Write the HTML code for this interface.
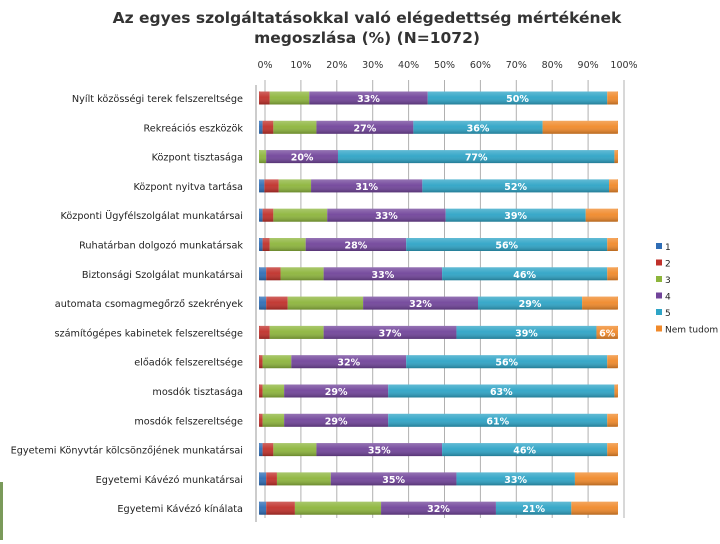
<!DOCTYPE html>
<html><head><meta charset="utf-8"><style>
body{margin:0;background:#fff;width:720px;height:540px;overflow:hidden;font-family:"DejaVu Sans","Liberation Sans",sans-serif}
</style></head><body>
<svg id="chart" width="720" height="540" xmlns="http://www.w3.org/2000/svg" font-family="DejaVu Sans, Liberation Sans, sans-serif">
<defs>
<linearGradient id="shine" x1="0" y1="0" x2="0" y2="1">
<stop offset="0" stop-color="#fff" stop-opacity="0.25"/><stop offset="0.45" stop-color="#fff" stop-opacity="0.05"/><stop offset="1" stop-color="#000" stop-opacity="0.25"/>
</linearGradient>
</defs>
<text x="367" y="23" text-anchor="middle" font-size="15.5" font-weight="bold" fill="#333">Az egyes szolgáltatásokkal való elégedettség mértékének</text>
<text x="367" y="43" text-anchor="middle" font-size="15.5" font-weight="bold" fill="#333">megoszlása (%) (N=1072)</text>
<rect x="0" y="482" width="3" height="58" fill="#7a9a5a"/>
<g id="grid"></g><g id="bars"></g><g id="legend"></g>
</svg>
<script>
const categories=["Nyílt közösségi terek felszereltsége","Rekreációs eszközök","Központ tisztasága","Központ nyitva tartása","Központi Ügyfélszolgálat munkatársai","Ruhatárban dolgozó munkatársak","Biztonsági Szolgálat munkatársai","automata csomagmegőrző szekrények","számítógépes kabinetek felszereltsége","előadók felszereltsége","mosdók tisztasága","mosdók felszereltsége","Egyetemi Könyvtár kölcsönzőjének munkatársai","Egyetemi Kávézó munkatársai","Egyetemi Kávézó kínálata"];
const s1=[0,1,0,1.5,1,1,2,2,0,0,0,0,1,2,2];
const s2=[3,3,0,4,3,2,4,6,3,1,1,1,3,3,8];
const s3=[11,12,2,9,15,10,12,21,15,8,6,6,12,15,24];
const s4=[33,27,20,31,33,28,33,32,37,32,29,29,35,35,32];
const s5=[50,36,77,52,39,56,46,29,39,56,63,61,46,33,21];
const sNT=[3,21,1,2.5,9,3,3,10,6,3,1,3,3,12,13];
const seriesNames=["1","2","3","4","5","Nem tudom"];
const ticks=[0,10,20,30,40,50,60,70,80,90,100];
const ntLabelRows=[8];
const colors=["#2f6db5","#c0302a","#8db53c","#71449a","#2ea4c6","#f0892a"];
const series=[s1,s2,s3,s4,s5,sNT];
const NS="http://www.w3.org/2000/svg";
const x0=259,x1=618,gx=6,top0=98,step=29.3,bh=13;
const X=v=>x0+(x1-x0)*v/100;
const Y=i=>top0+i*step;
function mk(t,a,p){const e=document.createElementNS(NS,t);for(const k in a)e.setAttribute(k,a[k]);p.appendChild(e);return e;}
const grid=document.getElementById('grid'),bars=document.getElementById('bars'),leg=document.getElementById('legend');
ticks.forEach(t=>{
 const l=mk('line',{x1:X(t)+gx,y1:80,x2:X(t)+gx,y2:518,stroke:'#b0b0b0','stroke-width':1},grid);
 
 
 const tx=mk('text',{x:X(t)+gx,y:68,'text-anchor':'middle','font-size':9.5,fill:'#333'},grid);
 tx.textContent=t+'%';
 
 
});
const ax=mk('line',{x1:256,y1:85,x2:256,y2:522,stroke:'#999'},grid);


categories.forEach((c,i)=>{
 const y=Y(i);
 const tl=mk('text',{x:243,y:y+4,'text-anchor':'end','font-size':9.7,fill:'#222'},bars);
 tl.textContent=c;
 
 
 let acc=0;
 series.forEach((s,k)=>{
  const v=s[i];if(v<=0){return;}
  const r=mk('rect',{x:X(acc),y:y-bh/2,width:X(acc+v)-X(acc),height:bh,fill:colors[k]},bars);
  
  
  const show=(k===3||k===4)||(k===5&&ntLabelRows.includes(i));
  if(show){
   const t=mk('text',{x:(X(acc)+X(acc+v))/2,y:y+4,'text-anchor':'middle','font-size':9.5,'font-weight':'bold',fill:'#fff'},bars);
   t.textContent=Math.round(v)+'%';
   
   
  }
  acc+=v;
 });
 const sh=mk('rect',{x:x0,y:y-bh/2,width:x1-x0,height:bh,fill:'url(#shine)',rx:2},bars);
 
 
});
Array.from(bars.querySelectorAll('text')).forEach(t=>bars.appendChild(t));
seriesNames.forEach((n,k)=>{
 const y=247+k*16.5;
 const r=mk('rect',{x:656,y:y-4,width:6,height:6,fill:colors[k]},leg);
 
 
 const t=mk('text',{x:665,y:y+3,'font-size':9,fill:'#222'},leg);
 t.textContent=n;
 
 
});
</script>
</body></html>
